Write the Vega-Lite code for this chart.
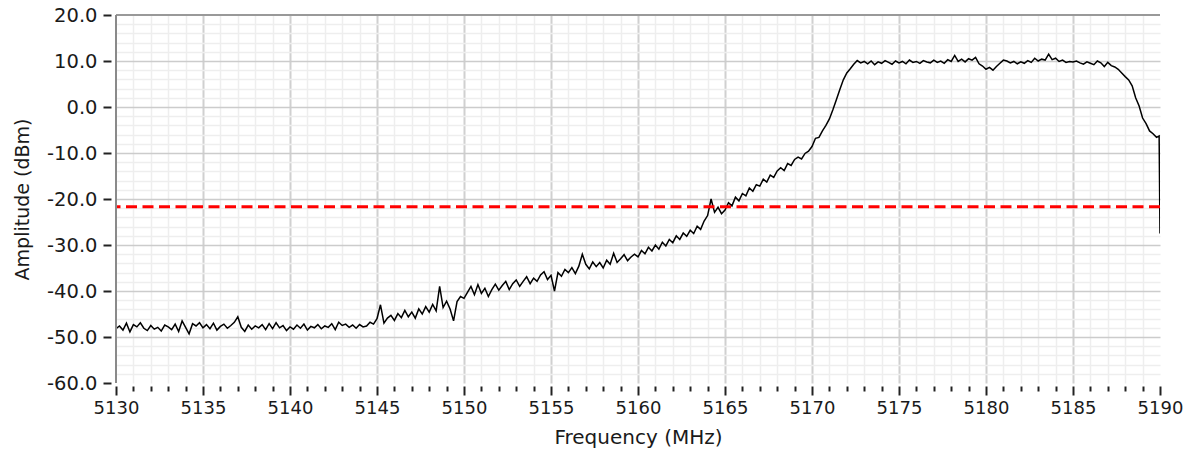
{
  "$schema": "https://vega.github.io/schema/vega-lite/v6.json",
  "width": 1044,
  "height": 368,
  "autosize": {"type": "none"},
  "padding": {"left": 116, "top": 15, "right": 28, "bottom": 72},
  "background": "white",
  "config": {"view": {"stroke": null}},
  "layer": [
    {
      "data": {"values": [
        {"f":5130.0,"a":-48.2},{"f":5130.2,"a":-47.6},{"f":5130.4,"a":-48.5},{"f":5130.6,"a":-47.0},{"f":5130.8,"a":-48.9},
        {"f":5131.0,"a":-47.3},{"f":5131.2,"a":-47.8},{"f":5131.4,"a":-46.9},{"f":5131.6,"a":-48.1},{"f":5131.8,"a":-48.6},
        {"f":5132.0,"a":-47.5},{"f":5132.2,"a":-48.3},{"f":5132.4,"a":-47.9},{"f":5132.6,"a":-48.7},{"f":5132.8,"a":-47.4},
        {"f":5133.0,"a":-47.8},{"f":5133.2,"a":-48.4},{"f":5133.4,"a":-47.2},{"f":5133.6,"a":-48.8},{"f":5133.8,"a":-46.5},
        {"f":5134.0,"a":-47.9},{"f":5134.2,"a":-49.3},{"f":5134.4,"a":-47.1},{"f":5134.6,"a":-47.6},{"f":5134.8,"a":-46.9},
        {"f":5135.0,"a":-48.0},{"f":5135.2,"a":-47.3},{"f":5135.4,"a":-48.2},{"f":5135.6,"a":-47.0},{"f":5135.8,"a":-48.5},
        {"f":5136.0,"a":-47.7},{"f":5136.2,"a":-47.2},{"f":5136.4,"a":-48.1},{"f":5136.6,"a":-47.5},{"f":5136.8,"a":-46.8},
        {"f":5137.0,"a":-45.6},{"f":5137.2,"a":-47.9},{"f":5137.4,"a":-48.8},{"f":5137.6,"a":-47.4},{"f":5137.8,"a":-48.3},
        {"f":5138.0,"a":-47.6},{"f":5138.2,"a":-48.0},{"f":5138.4,"a":-47.3},{"f":5138.6,"a":-48.4},{"f":5138.8,"a":-47.1},
        {"f":5139.0,"a":-48.2},{"f":5139.2,"a":-46.9},{"f":5139.4,"a":-48.0},{"f":5139.6,"a":-47.5},{"f":5139.8,"a":-48.6},
        {"f":5140.0,"a":-47.8},{"f":5140.2,"a":-48.3},{"f":5140.4,"a":-47.4},{"f":5140.6,"a":-48.1},{"f":5140.8,"a":-47.2},
        {"f":5141.0,"a":-48.5},{"f":5141.2,"a":-47.7},{"f":5141.4,"a":-48.0},{"f":5141.6,"a":-47.3},{"f":5141.8,"a":-48.2},
        {"f":5142.0,"a":-47.6},{"f":5142.2,"a":-47.9},{"f":5142.4,"a":-47.1},{"f":5142.6,"a":-48.4},{"f":5142.8,"a":-46.8},
        {"f":5143.0,"a":-47.5},{"f":5143.2,"a":-47.2},{"f":5143.4,"a":-47.9},{"f":5143.6,"a":-47.4},{"f":5143.8,"a":-48.1},
        {"f":5144.0,"a":-47.3},{"f":5144.2,"a":-47.8},{"f":5144.4,"a":-47.6},{"f":5144.6,"a":-46.8},{"f":5144.8,"a":-47.2},
        {"f":5145.0,"a":-46.0},{"f":5145.2,"a":-43.0},{"f":5145.4,"a":-47.0},{"f":5145.6,"a":-45.9},{"f":5145.8,"a":-45.3},
        {"f":5146.0,"a":-46.4},{"f":5146.2,"a":-44.9},{"f":5146.4,"a":-45.8},{"f":5146.6,"a":-44.2},{"f":5146.8,"a":-45.6},
        {"f":5147.0,"a":-44.6},{"f":5147.2,"a":-45.9},{"f":5147.4,"a":-43.9},{"f":5147.6,"a":-45.0},{"f":5147.8,"a":-43.4},
        {"f":5148.0,"a":-44.6},{"f":5148.2,"a":-42.9},{"f":5148.4,"a":-44.3},{"f":5148.6,"a":-39.0},{"f":5148.8,"a":-43.6},
        {"f":5149.0,"a":-42.2},{"f":5149.2,"a":-43.9},{"f":5149.4,"a":-46.5},{"f":5149.6,"a":-42.3},{"f":5149.8,"a":-41.2},
        {"f":5150.0,"a":-41.6},{"f":5150.2,"a":-40.3},{"f":5150.4,"a":-39.0},{"f":5150.6,"a":-40.8},{"f":5150.8,"a":-38.6},
        {"f":5151.0,"a":-40.5},{"f":5151.2,"a":-39.4},{"f":5151.4,"a":-41.2},{"f":5151.6,"a":-39.7},{"f":5151.8,"a":-38.5},
        {"f":5152.0,"a":-39.8},{"f":5152.2,"a":-38.8},{"f":5152.4,"a":-37.9},{"f":5152.6,"a":-39.7},{"f":5152.8,"a":-38.4},
        {"f":5153.0,"a":-37.6},{"f":5153.2,"a":-39.0},{"f":5153.4,"a":-37.9},{"f":5153.6,"a":-36.9},{"f":5153.8,"a":-38.4},
        {"f":5154.0,"a":-37.2},{"f":5154.2,"a":-37.9},{"f":5154.4,"a":-36.5},{"f":5154.6,"a":-35.8},{"f":5154.8,"a":-37.5},
        {"f":5155.0,"a":-36.6},{"f":5155.2,"a":-40.0},{"f":5155.4,"a":-36.0},{"f":5155.6,"a":-36.8},{"f":5155.8,"a":-35.3},
        {"f":5156.0,"a":-36.0},{"f":5156.2,"a":-34.9},{"f":5156.4,"a":-36.2},{"f":5156.6,"a":-34.6},{"f":5156.8,"a":-32.0},
        {"f":5157.0,"a":-34.2},{"f":5157.2,"a":-35.2},{"f":5157.4,"a":-33.7},{"f":5157.6,"a":-34.7},{"f":5157.8,"a":-33.8},
        {"f":5158.0,"a":-35.0},{"f":5158.2,"a":-33.3},{"f":5158.4,"a":-34.2},{"f":5158.6,"a":-31.8},{"f":5158.8,"a":-33.8},
        {"f":5159.0,"a":-33.0},{"f":5159.2,"a":-32.1},{"f":5159.4,"a":-33.4},{"f":5159.6,"a":-32.6},{"f":5159.8,"a":-32.0},
        {"f":5160.0,"a":-32.6},{"f":5160.2,"a":-31.2},{"f":5160.4,"a":-31.9},{"f":5160.6,"a":-30.5},{"f":5160.8,"a":-31.3},
        {"f":5161.0,"a":-30.0},{"f":5161.2,"a":-30.9},{"f":5161.4,"a":-29.4},{"f":5161.6,"a":-30.2},{"f":5161.8,"a":-28.8},
        {"f":5162.0,"a":-29.5},{"f":5162.2,"a":-28.0},{"f":5162.4,"a":-28.8},{"f":5162.6,"a":-27.4},{"f":5162.8,"a":-28.1},
        {"f":5163.0,"a":-26.8},{"f":5163.2,"a":-27.5},{"f":5163.4,"a":-25.9},{"f":5163.6,"a":-26.6},{"f":5163.8,"a":-24.8},
        {"f":5164.0,"a":-23.6},{"f":5164.2,"a":-20.0},{"f":5164.4,"a":-22.9},{"f":5164.6,"a":-21.8},{"f":5164.8,"a":-23.2},
        {"f":5165.0,"a":-22.4},{"f":5165.2,"a":-20.8},{"f":5165.4,"a":-21.5},{"f":5165.6,"a":-19.6},{"f":5165.8,"a":-20.4},
        {"f":5166.0,"a":-18.8},{"f":5166.2,"a":-19.3},{"f":5166.4,"a":-17.6},{"f":5166.6,"a":-18.3},{"f":5166.8,"a":-16.9},
        {"f":5167.0,"a":-17.2},{"f":5167.2,"a":-15.7},{"f":5167.4,"a":-16.3},{"f":5167.6,"a":-14.8},{"f":5167.8,"a":-15.3},
        {"f":5168.0,"a":-13.9},{"f":5168.2,"a":-13.2},{"f":5168.4,"a":-13.8},{"f":5168.6,"a":-12.3},{"f":5168.8,"a":-12.7},
        {"f":5169.0,"a":-11.4},{"f":5169.2,"a":-10.9},{"f":5169.4,"a":-11.3},{"f":5169.6,"a":-10.1},{"f":5169.8,"a":-9.6},
        {"f":5170.0,"a":-8.6},{"f":5170.2,"a":-6.8},{"f":5170.4,"a":-6.6},{"f":5170.6,"a":-5.2},{"f":5170.8,"a":-4.0},
        {"f":5171.0,"a":-2.6},{"f":5171.2,"a":-0.6},{"f":5171.4,"a":1.6},{"f":5171.6,"a":3.8},{"f":5171.8,"a":5.9},
        {"f":5172.0,"a":7.4},{"f":5172.2,"a":8.3},{"f":5172.4,"a":9.3},{"f":5172.6,"a":10.1},{"f":5172.8,"a":9.6},
        {"f":5173.0,"a":9.9},{"f":5173.2,"a":9.4},{"f":5173.4,"a":10.0},{"f":5173.6,"a":9.2},{"f":5173.8,"a":9.8},
        {"f":5174.0,"a":9.5},{"f":5174.2,"a":10.1},{"f":5174.4,"a":9.7},{"f":5174.6,"a":9.3},{"f":5174.8,"a":10.0},
        {"f":5175.0,"a":9.6},{"f":5175.2,"a":9.9},{"f":5175.4,"a":9.4},{"f":5175.6,"a":10.2},{"f":5175.8,"a":9.7},
        {"f":5176.0,"a":9.9},{"f":5176.2,"a":9.5},{"f":5176.4,"a":10.1},{"f":5176.6,"a":9.8},{"f":5176.8,"a":9.6},
        {"f":5177.0,"a":10.2},{"f":5177.2,"a":9.7},{"f":5177.4,"a":10.0},{"f":5177.6,"a":9.5},{"f":5177.8,"a":10.3},
        {"f":5178.0,"a":9.9},{"f":5178.2,"a":11.2},{"f":5178.4,"a":9.9},{"f":5178.6,"a":10.4},{"f":5178.8,"a":9.8},
        {"f":5179.0,"a":10.5},{"f":5179.2,"a":10.2},{"f":5179.4,"a":10.8},{"f":5179.6,"a":9.4},{"f":5179.8,"a":8.9},
        {"f":5180.0,"a":8.2},{"f":5180.2,"a":8.6},{"f":5180.4,"a":8.0},{"f":5180.6,"a":8.8},{"f":5180.8,"a":9.5},
        {"f":5181.0,"a":10.2},{"f":5181.2,"a":10.0},{"f":5181.4,"a":9.6},{"f":5181.6,"a":9.9},{"f":5181.8,"a":9.4},
        {"f":5182.0,"a":9.8},{"f":5182.2,"a":9.5},{"f":5182.4,"a":10.1},{"f":5182.6,"a":9.7},{"f":5182.8,"a":10.6},
        {"f":5183.0,"a":10.0},{"f":5183.2,"a":10.4},{"f":5183.4,"a":10.2},{"f":5183.6,"a":11.5},{"f":5183.8,"a":10.3},
        {"f":5184.0,"a":10.6},{"f":5184.2,"a":9.9},{"f":5184.4,"a":10.2},{"f":5184.6,"a":9.7},{"f":5184.8,"a":9.9},
        {"f":5185.0,"a":9.8},{"f":5185.2,"a":10.0},{"f":5185.4,"a":9.6},{"f":5185.6,"a":9.3},{"f":5185.8,"a":9.8},
        {"f":5186.0,"a":9.5},{"f":5186.2,"a":9.2},{"f":5186.4,"a":10.0},{"f":5186.6,"a":9.6},{"f":5186.8,"a":8.8},
        {"f":5187.0,"a":9.7},{"f":5187.2,"a":9.0},{"f":5187.4,"a":8.7},{"f":5187.6,"a":8.2},{"f":5187.8,"a":7.4},
        {"f":5188.0,"a":6.6},{"f":5188.2,"a":5.9},{"f":5188.4,"a":4.6},{"f":5188.6,"a":2.0},{"f":5188.8,"a":0.2},
        {"f":5189.0,"a":-2.4},{"f":5189.2,"a":-3.6},{"f":5189.4,"a":-5.2},{"f":5189.6,"a":-5.8},{"f":5189.8,"a":-6.6},
        {"f":5189.95,"a":-6.3},{"f":5190.0,"a":-27.5}
      ]},
      "mark": {"type": "line", "color": "#000000", "strokeWidth": 1.5, "clip": true},
      "encoding": {
        "x": {
          "field": "f", "type": "quantitative",
          "scale": {"domain": [5130, 5190], "nice": false, "zero": false},
          "axis": {
            "values": [5130,5131,5132,5133,5134,5135,5136,5137,5138,5139,5140,5141,5142,5143,5144,5145,5146,5147,5148,5149,5150,5151,5152,5153,5154,5155,5156,5157,5158,5159,5160,5161,5162,5163,5164,5165,5166,5167,5168,5169,5170,5171,5172,5173,5174,5175,5176,5177,5178,5179,5180,5181,5182,5183,5184,5185,5186,5187,5188,5189,5190],
            "tickCount": 1000,
            "format": "d",
            "labelExpr": "datum.value % 5 === 0 ? datum.label : ''",
            "labelOverlap": false,
            "labelFlush": false,
            "labelFont": "DejaVu Sans",
            "labelFontSize": 18,
            "labelColor": "#1a1a1a",
            "labelPadding": 4,
            "offset": 3,
            "domain": false,
            "tickColor": "#222222",
            "tickWidth": 2,
            "tickSize": {"condition": {"test": "datum.value % 5 === 0", "value": 9}, "value": 5},
            "grid": true,
            "gridColor": {"condition": {"test": "datum.value % 5 === 0", "value": "#d0d0d0"}, "value": "#eeeeee"},
            "gridWidth": {"condition": {"test": "datum.value % 5 === 0", "value": 2}, "value": 1.5},
            "gridOpacity": {"condition": {"test": "datum.value >= 5190 || datum.value <= 5130", "value": 0}, "value": 1},
            "title": "Frequency (MHz)",
            "titleFont": "DejaVu Sans",
            "titleFontSize": 20,
            "titleFontWeight": "normal",
            "titleColor": "#1a1a1a",
            "titlePadding": 10
          }
        },
        "y": {
          "field": "a", "type": "quantitative",
          "scale": {"domain": [-60, 20], "nice": false, "zero": false},
          "axis": {
            "values": [-60,-58,-56,-54,-52,-50,-48,-46,-44,-42,-40,-38,-36,-34,-32,-30,-28,-26,-24,-22,-20,-18,-16,-14,-12,-10,-8,-6,-4,-2,0,2,4,6,8,10,12,14,16,18,20],
            "tickCount": 1000,
            "format": ".1f",
            "labelExpr": "datum.value % 10 === 0 ? replace(datum.label, '\u2212', '-') : ''",
            "labelOverlap": false,
            "labelFlush": false,
            "labelFont": "DejaVu Sans",
            "labelFontSize": 19.5,
            "labelColor": "#1a1a1a",
            "labelPadding": 6,
            "offset": 5,
            "domain": false,
            "tickColor": "#222222",
            "tickWidth": 2,
            "tickSize": 8,
            "tickOpacity": {"condition": {"test": "datum.value % 10 === 0", "value": 1}, "value": 0},
            "grid": true,
            "gridColor": {"condition": {"test": "datum.value % 10 === 0", "value": "#cccccc"}, "value": "#eeeeee"},
            "gridWidth": 1.5,
            "gridOpacity": {"condition": {"test": "datum.value <= -60 || datum.value >= 20", "value": 0}, "value": 1},
            "title": "Amplitude (dBm)",
            "titleFont": "DejaVu Sans",
            "titleFontSize": 19,
            "titleFontWeight": "normal",
            "titleColor": "#1a1a1a",
            "titlePadding": 14
          }
        }
      }
    },
    {
      "data": {"values": [{}]},
      "mark": {"type": "rule", "color": "#ff0000", "strokeWidth": 3, "strokeDash": [11, 5.5]},
      "encoding": {"y": {"datum": -21.7}}
    },
    {
      "data": {"values": [{}]},
      "mark": {"type": "rule", "color": "#999999", "strokeWidth": 2},
      "encoding": {"y": {"datum": 20}}
    },
    {
      "data": {"values": [{}]},
      "mark": {"type": "rule", "color": "#8a8a8a", "strokeWidth": 2},
      "encoding": {"x": {"datum": 5130}}
    }
  ]
}
